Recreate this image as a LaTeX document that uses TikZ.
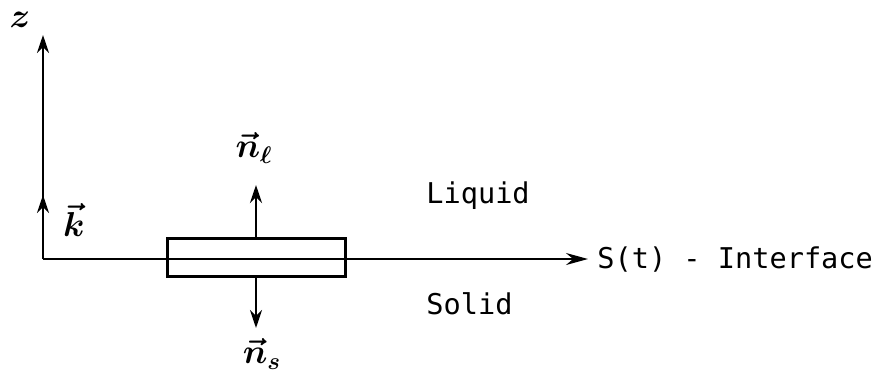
\documentclass[tikz,border=0pt]{standalone}
\usepackage{fontspec}
\usepackage{amsmath}
\setmonofont{DejaVu Sans Mono}
\usetikzlibrary{arrows.meta}
\begin{document}
\begin{tikzpicture}[x=0.5pt,y=-0.5pt,
  axis/.style={line width=1.2pt,-{Stealth[length=9pt,width=6pt]}},
  haxis/.style={line width=0.9pt,-{Stealth[length=11pt,width=6pt]}},
  vec/.style={line width=1.3pt,-{Stealth[length=9pt,width=6pt]}},
  lbl/.style={font=\fontsize{14.3}{16}\selectfont\ttfamily,inner sep=0pt},
  hand/.style={font=\fontsize{17}{19}\selectfont,inner sep=0pt},
  elem/.style={draw,line width=1.5pt,minimum width=89pt,minimum height=19pt,inner sep=0pt}]
\useasboundingbox (0,0) rectangle (880,381);
\coordinate (O) at (43,259);
\coordinate (ztop) at (43,35);
\coordinate (ktip) at (43,195);
\coordinate (xend) at (588,259);
\node[elem] (box) at (256,257) {};
\coordinate (nltip) at (256,185);
\coordinate (nstip) at (256,328);
\draw[axis] (O) -- (ztop);
\draw[axis] (O) -- (ktip);
\draw[haxis] (O) -- (xend);
\draw[vec] (box.north) -- (nltip);
\draw[vec] (box.south) -- (nstip);
\node[hand] (zlab) at (20,20) {$\boldsymbol{z}$};
\node[hand] (klab) at (74,220) {$\boldsymbol{\vec{k}}$};
\node[hand] (nllab) at (254,148) {$\boldsymbol{\vec{n}_{\ell}}$};
\node[hand] (nslab) at (262,354) {$\boldsymbol{\vec{n}_{s}}$};
\node[lbl,anchor=west] (iface) at (597,260) {S(t) - Interface};
\node[lbl,anchor=west] (liq) at (426,196) {Liquid};
\node[lbl,anchor=west] (sol) at (426,304) {Solid};
\end{tikzpicture}
\end{document}
